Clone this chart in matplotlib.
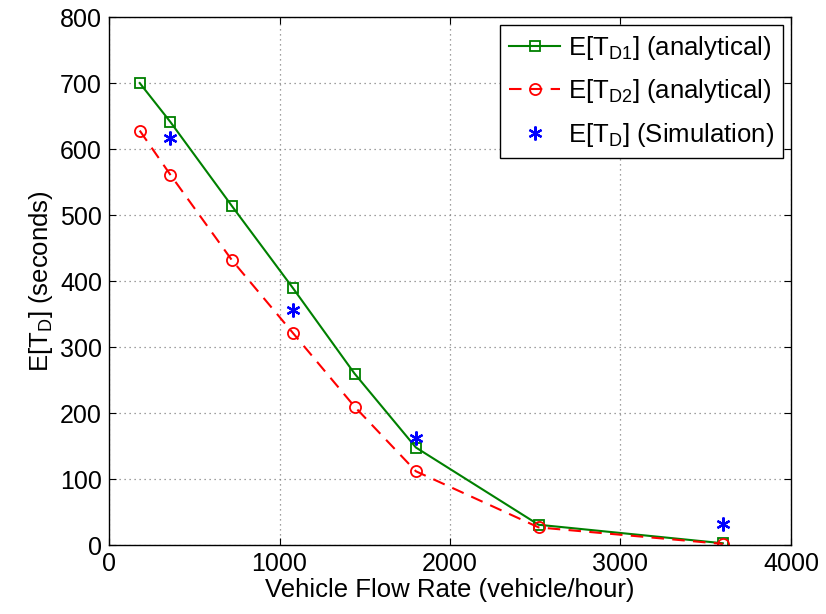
import matplotlib
matplotlib.use("Agg")
import matplotlib.pyplot as plt

plt.rcParams['font.family'] = ['Liberation Sans', 'DejaVu Sans']
plt.rcParams['mathtext.default'] = 'regular'

flow = [180, 360, 720, 1080, 1440, 1800, 2520, 3600]
td1 = [700, 641, 514, 389, 260, 148, 31, 3]
td2 = [628, 561, 432, 321, 210, 112, 27, 2]
sim_flow = [360, 1080, 1800, 3600]
sim_td = [617, 356, 162, 32]

xticks = [0, 1000, 2000, 3000, 4000]
yticks = [0, 100, 200, 300, 400, 500, 600, 700, 800]

fig = plt.figure(figsize=(8.26, 6.14), dpi=100)
ax = fig.add_axes([0.132, 0.112, 0.8256, 0.8603])

ax.plot(flow, td1, color='#008000', lw=1.5, marker='s', ms=7, mfc='none',
        mew=1.3, label='E[T$_{D1}$] (analytical)')
ax.plot(flow, td2, color='#ff0000', lw=1.5, ls=(0, (6, 4)), marker='o', ms=8,
        mfc='none', mew=1.3, label='E[T$_{D2}$] (analytical)')
ax.plot(sim_flow, sim_td, ls='none', color='#0000ff', marker=(6, 2, 0), ms=10,
        mew=1.6, label='E[T$_{D}$] (Simulation)')

ax.set_xlim(0, 4000)
ax.set_ylim(0, 800)
ax.set_xticks(xticks)
ax.set_yticks(yticks)
ax.tick_params(direction='in', length=5, labelsize=18, top=True, right=True,
               labeltop=False, labelright=False, pad=5)
ax.grid(True, ls=(0, (1, 3)), color='#808080', lw=0.9)
for s in ax.spines.values():
    s.set_linewidth(1.0)

ax.set_xlabel('Vehicle Flow Rate (vehicle/hour)', fontsize=18.5, labelpad=1)
ax.set_ylabel('E[T$_{D}$] (seconds)', fontsize=18.5, labelpad=4)

leg = ax.legend(loc='upper right', fontsize=18.5, fancybox=False, framealpha=1,
                edgecolor='black', borderpad=0.35, labelspacing=0.6,
                handlelength=2.0, handletextpad=0.3, borderaxespad=0.3)
leg.get_frame().set_linewidth(1.0)

fig.savefig('out.png', dpi=100)
